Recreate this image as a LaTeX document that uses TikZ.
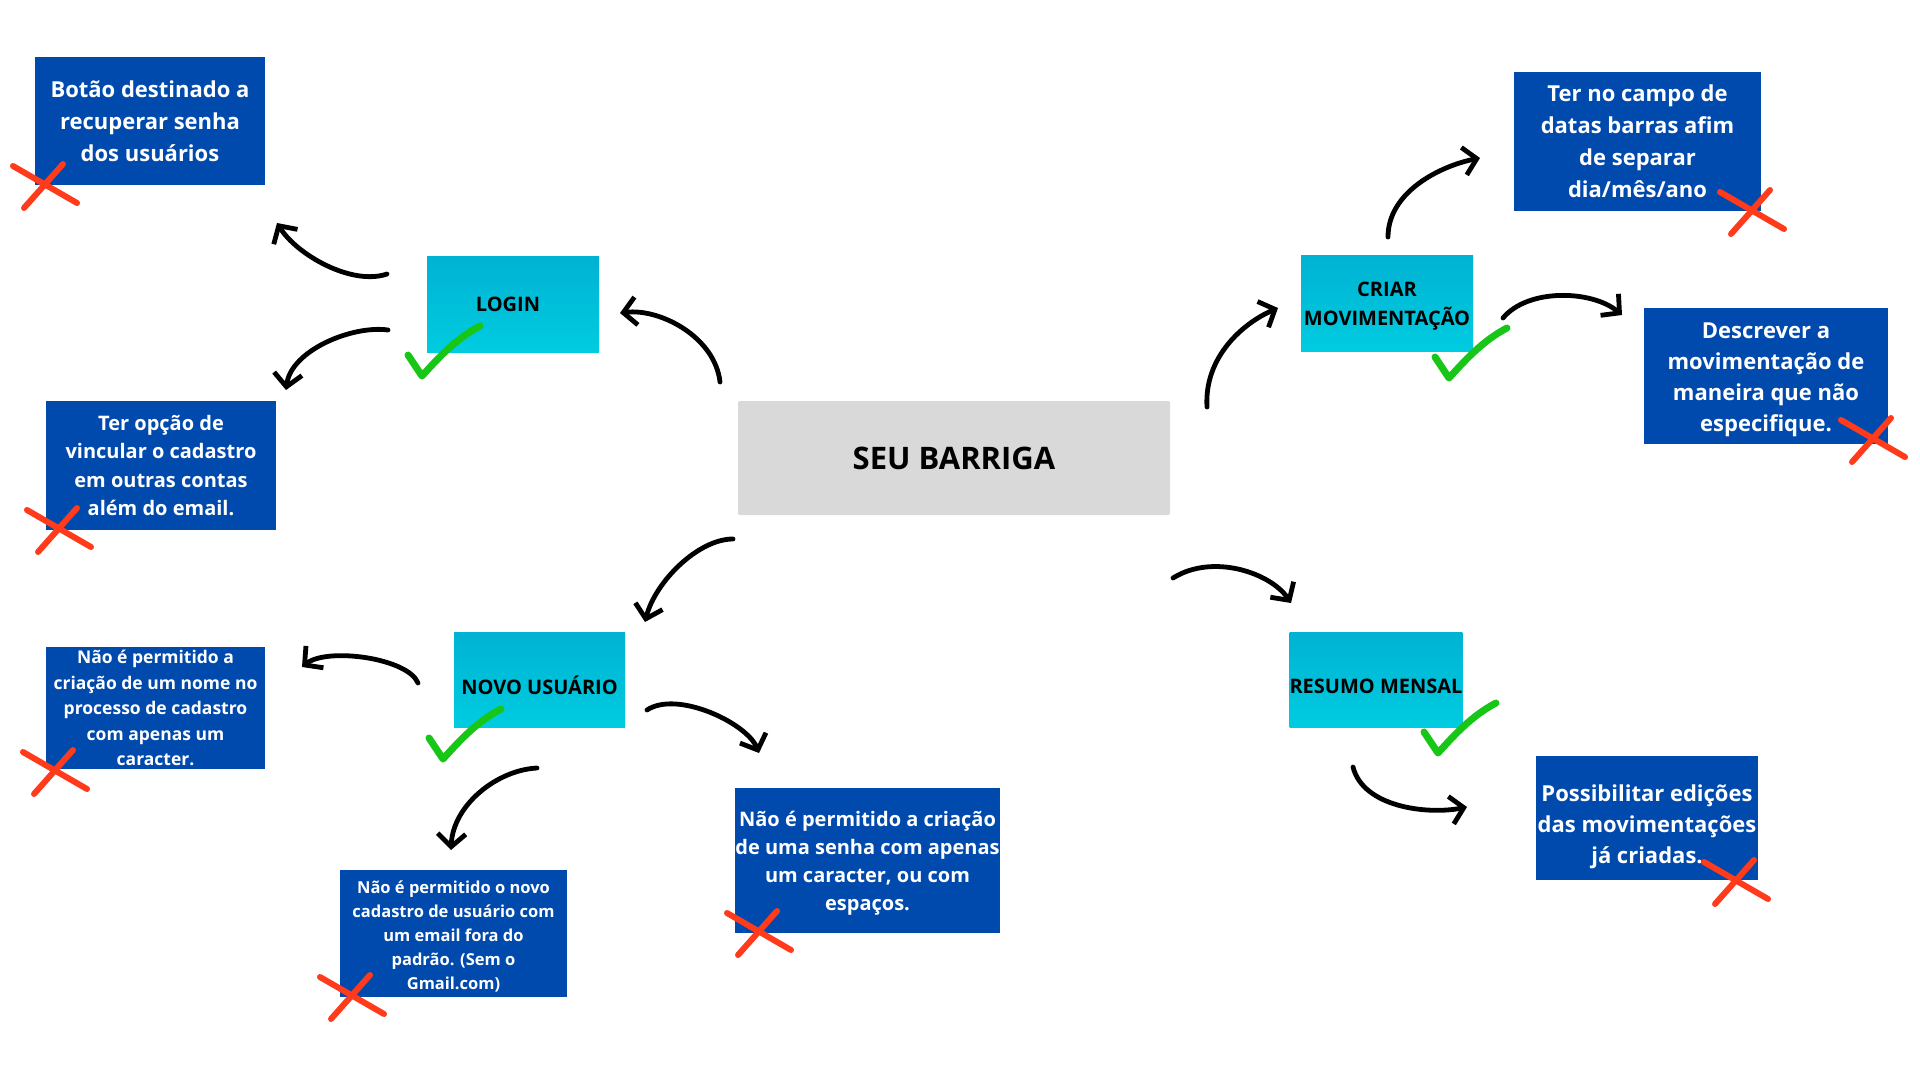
\documentclass[tikz,border=0pt]{standalone}
\usepackage{fontspec}
\setmainfont{Open Sans}
\usetikzlibrary{arrows.meta}

\definecolor{boxblue}{HTML}{004AAD}
\definecolor{cyantop}{HTML}{00B2D3}
\definecolor{cyanbot}{HTML}{00CCE0}
\definecolor{boxgray}{HTML}{D9D9D9}
\definecolor{okgreen}{HTML}{17C617}
\definecolor{nored}{HTML}{FF3B1C}

\tikzset{
  xmark/.pic={\draw[line width=6pt,nored,line cap=round] (-32,-18) -- (32,19) (18,-20) -- (-21,24);},
  okmark/.pic={\draw[line width=7pt,okgreen,line cap=round,line join=round] (-14,-21) -- (0,0) .. controls (18,-20) and (35,-38) .. (58,-50);}
}

\begin{document}
\begin{tikzpicture}[x=1pt,y=-1pt,
  every node/.style={inner sep=0pt,align=center},
  bluebox/.style={fill=boxblue,text=white},
  cyanbox/.style={top color=cyantop,bottom color=cyanbot,minimum width=172pt,minimum height=96pt,
    font=\fontsize{20}{29}\selectfont\bfseries},
  arr/.style={line width=4.8pt,line cap=round,-{Straight Barb[length=13pt,width=28pt]}}]
\fill[white] (0,0) rectangle (1920,1080);
\useasboundingbox (0,0) rectangle (1920,1080);

% centre
\node[fill=boxgray,rounded corners=2pt,minimum width=432pt,minimum height=114pt,
  font=\fontsize{31}{37}\selectfont\bfseries] (seu) at (954,458) {SEU BARRIGA};

% login
\node[cyanbox] (login) at (513,304) {LOGIN\hspace*{10pt}};
\node[bluebox,minimum width=230pt,minimum height=128pt,font=\fontsize{22}{32}\selectfont\bfseries]
  (botao) at (150,121) {Botão destinado a\\recuperar senha\\dos usuários};
\node[bluebox,minimum width=230pt,minimum height=129pt,font=\fontsize{20}{28.5}\selectfont\bfseries]
  (vincular) at (161,465.5) {Ter opção de\\vincular o cadastro\\em outras contas\\além do email.};

% novo usuario
\node[cyanbox,minimum width=171pt,minimum height=95pt,text height=29pt,text depth=0pt]
  (novo) at (539.5,679.5) {NOVO USUÁRIO};
\node[bluebox,minimum width=219pt,minimum height=122pt,font=\fontsize{17.5}{25.6}\selectfont\bfseries]
  (nome) at (155.5,708) {Não é permitido a\\criação de um nome no\\processo de cadastro\\com apenas um\\caracter.};
\node[bluebox,minimum width=227pt,minimum height=127pt,font=\fontsize{16.5}{24}\selectfont\bfseries,
  text height=115pt,text depth=3.3pt]
  (email) at (453.5,933.5) {Não é permitido o novo\\cadastro de usuário com\\um email fora do\\padrão. (Sem o\\Gmail.com)};
\node[bluebox,minimum width=261pt,minimum height=145pt,font=\fontsize{20}{28}\selectfont\bfseries,
  text height=105pt,text depth=4.8pt]
  (senha) at (867.5,860.5) {Não é permitido a criação\\de uma senha com apenas\\um caracter, ou com\\espaços.};

% criar movimentacao
\node[cyanbox,text height=49pt,text depth=4pt] (criar) at (1387,303) {CRIAR\\MOVIMENTAÇÃO};
\node[bluebox,minimum width=247pt,minimum height=139pt,font=\fontsize{22}{32}\selectfont\bfseries]
  (datas) at (1637.5,141.5) {Ter no campo de\\datas barras afim\\de separar\\dia/mês/ano};
\node[bluebox,minimum width=244pt,minimum height=136pt,font=\fontsize{22}{31}\selectfont\bfseries,
  text height=116pt,text depth=5.3pt]
  (descrever) at (1766,376) {Descrever a\\movimentação de\\maneira que não\\especifique.};

% resumo mensal
\node[cyanbox,minimum height=95pt,text height=28pt,text depth=0pt] (resumo) at (1376,679.5) {RESUMO MENSAL};
\node[bluebox,minimum width=222pt,minimum height=124pt,font=\fontsize{22}{31}\selectfont\bfseries,
  text height=97pt,text depth=6pt] (edicoes) at (1647,818) {Possibilitar edições\\das movimentações\\já criadas.};

% arrow ends
\coordinate (seu-login) at (720,382);   \coordinate (login-in) at (620,313);
\coordinate (login-up) at (387,274);    \coordinate (botao-in) at (277,223);
\coordinate (login-down) at (388,330);  \coordinate (vincular-in) at (286,390);
\coordinate (seu-novo) at (733,539);    \coordinate (novo-in) at (645,622);
\coordinate (novo-left) at (418,683);   \coordinate (nome-in) at (302,667);
\coordinate (novo-down) at (537,768);   \coordinate (email-in) at (451,850);
\coordinate (novo-right) at (647,710);  \coordinate (senha-in) at (759,753);
\coordinate (seu-criar) at (1207,407);  \coordinate (criar-in) at (1278,308);
\coordinate (criar-up) at (1388,237);   \coordinate (datas-in) at (1480,158);
\coordinate (criar-right) at (1503,318);\coordinate (descrever-in) at (1622,315);
\coordinate (seu-resumo) at (1173,578); \coordinate (resumo-in) at (1291,603);
\coordinate (resumo-down) at (1353,767);\coordinate (edicoes-in) at (1467,807);

\draw[arr] (seu-login) .. controls +(-5,-45) and +(40,-5) .. (login-in);
\draw[arr] (login-up) .. controls +(-35,12) and +(20,32) .. (botao-in);
\draw[arr] (login-down) .. controls +(-35,-5) and +(5,-40) .. (vincular-in);
\draw[arr] (seu-novo) .. controls +(-35,0) and +(10,-40) .. (novo-in);
\draw[arr] (novo-left) .. controls +(-10,-25) and +(25,-20) .. (nome-in);
\draw[arr] (novo-down) .. controls +(-40,2) and +(2,-45) .. (email-in);
\draw[arr] (novo-right) .. controls +(30,-20) and +(-12,-30) .. (senha-in);
\draw[arr] (seu-criar) .. controls +(-3,-50) and +(-35,15) .. (criar-in);
\draw[arr] (criar-up) .. controls +(0,-45) and +(-40,8) .. (datas-in);
\draw[arr] (criar-right) .. controls +(25,-30) and +(-30,-25) .. (descrever-in);
\draw[arr] (seu-resumo) .. controls +(40,-25) and +(-20,-30) .. (resumo-in);
\draw[arr] (resumo-down) .. controls +(10,40) and +(-40,8) .. (edicoes-in);

% marks
\pic at (422,376) {okmark};
\pic at (443,759) {okmark};
\pic at (1449,378) {okmark};
\pic at (1438,753) {okmark};
\pic at (45,184) {xmark};
\pic at (59,528) {xmark};
\pic at (55,770) {xmark};
\pic at (352,995) {xmark};
\pic at (759,931) {xmark};
\pic at (1752,210) {xmark};
\pic at (1873,438) {xmark};
\pic at (1736,880) {xmark};
\end{tikzpicture}
\end{document}
